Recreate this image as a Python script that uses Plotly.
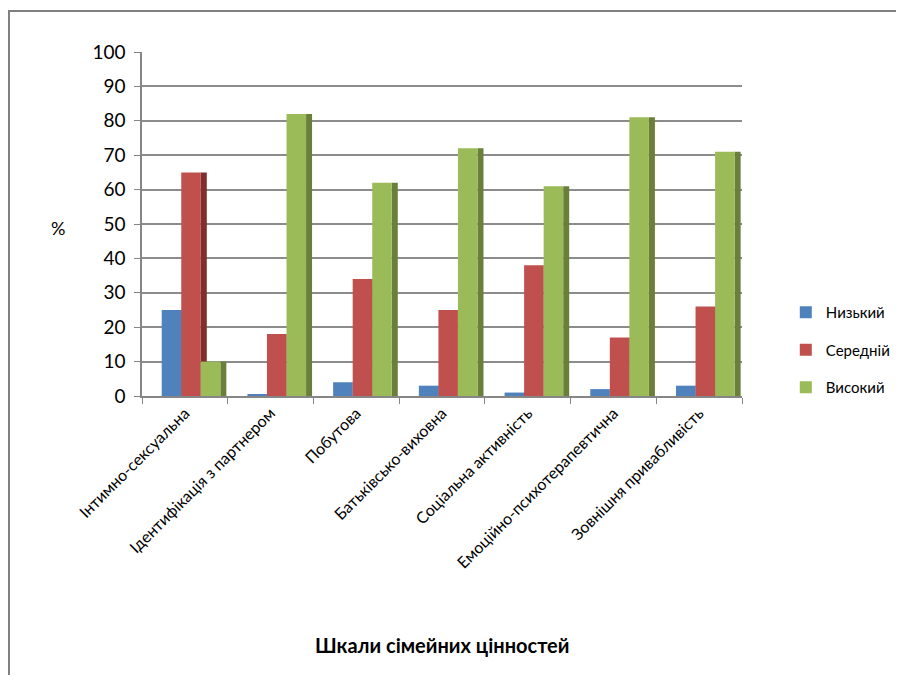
import plotly.graph_objects as go

categories = ["Інтимно-сексуальна", "Ідентифікація з партнером", "Побутова",
              "Батьківсько-виховна", "Соціальна активність",
              "Емоційно-психотерапевтична", "Зовнішня привабливість"]
low = [25, 0.3, 4, 3, 1, 2, 3]
mid = [65, 18, 34, 25, 38, 17, 26]
high = [10, 82, 62, 72, 61, 81, 71]
series_names = ["Низький", "Середній", "Високий"]
y_ticks = [0, 10, 20, 30, 40, 50, 60, 70, 80, 90, 100]

face = ["#4F81BD", "#C0504D", "#9BBB59"]
side = ["#385D8A", "#7F2F2D", "#6A7F3A"]
FONT = "Lato"

w = 0.228
sw = 0.07
start = -0.27

fig = go.Figure()
for i, (name, vals) in enumerate(zip(series_names, [low, mid, high])):
    off = start + i * w
    fig.add_trace(go.Bar(x=categories, y=vals, width=sw, offset=off + w,
                         marker=dict(color=side[i], line=dict(width=0)),
                         showlegend=False, hoverinfo="skip"))
    fig.add_trace(go.Bar(x=categories, y=vals, width=w, offset=off, name=name,
                         legendgroup=name,
                         marker=dict(color=face[i], line=dict(width=0))))

fig.update_layout(
    width=888, height=667,
    margin=dict(l=134, r=154, t=44, b=279, autoexpand=False),
    paper_bgcolor="white", plot_bgcolor="white",
    barmode="overlay",
    font=dict(family=FONT, color="#000000"),
    legend=dict(x=1.073, y=0.134, xanchor="left", yanchor="middle",
                font=dict(size=15, family=FONT), traceorder="grouped",
                tracegroupgap=15, bgcolor="rgba(0,0,0,0)"),
    xaxis=dict(type="category", tickangle=-45, tickfont=dict(size=16, family=FONT),
               showline=True, linecolor="#868686", linewidth=1.5,
               ticks="outside", ticklen=6, tickcolor="#868686", tickson="boundaries",
               showgrid=False, automargin=False),
    yaxis=dict(range=[0, 100], tickvals=y_ticks, tickfont=dict(size=19, family=FONT),
               showline=True, linecolor="#868686", linewidth=1.5,
               ticks="outside", ticklen=6, tickcolor="#868686", ticklabelstandoff=5,
               showgrid=True, gridcolor="#8c8c8c", gridwidth=1.5, zeroline=False,
               automargin=False),
    annotations=[
        dict(text="%", xref="paper", yref="paper", x=-0.14, y=0.488, showarrow=False,
             xanchor="center", yanchor="middle", font=dict(size=18, family=FONT)),
        dict(text="<b>Шкали сімейних цінностей</b>", xref="paper", yref="paper",
             x=0.5, y=-0.724, showarrow=False, xanchor="center", yanchor="middle",
             font=dict(size=20, family=FONT)),
    ],
    shapes=[
        dict(type="path", xref="paper", yref="paper",
             path="M -0.2217,-1.2 L -0.2217,1.119 L 1.4,1.119",
             line=dict(color="#808080", width=2)),
    ],
)

fig.write_html("out.html")
